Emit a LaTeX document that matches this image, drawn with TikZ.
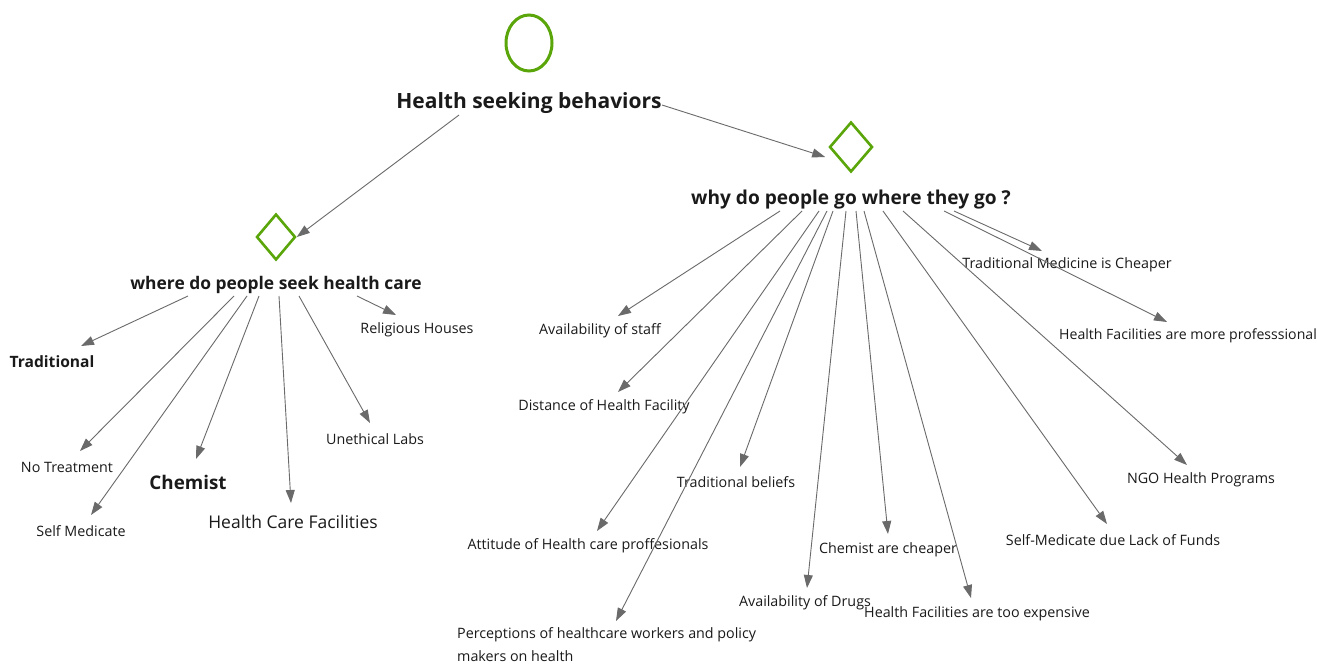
\documentclass[tikz,border=0pt]{standalone}
\usepackage{fontspec}
\setmainfont{Open Sans}
\usetikzlibrary{arrows.meta,shapes.geometric,calc}
\definecolor{grn}{HTML}{5AA60A}
\definecolor{arrc}{HTML}{6A6A6A}
\definecolor{txt}{HTML}{1A1A1A}
\tikzset{
  lbl/.style={inner sep=0pt,text=txt,font=\fontsize{14.3}{17}\selectfont},
  blbl/.style={inner sep=0pt,text=txt,font=\fontsize{#1}{#1}\selectfont\bfseries},
  arr/.style={draw=arrc,line width=0.9pt,-{Triangle[length=13pt,width=9pt]}},
  dia/.style={draw=grn,line width=2.6pt,shape=diamond,inner sep=0pt,minimum width=#1},
}
\begin{document}
\begin{tikzpicture}[x=1pt,y=-1pt]
\useasboundingbox[fill=white] (0,0) rectangle (1317,666);
% central
\node[draw=grn,line width=3pt,ellipse,minimum width=46pt,minimum height=56pt,inner sep=0pt] (top) at (529,43) {};
\node[blbl=21] (hsb) at (529,103) {Health seeking behaviors};
\node[dia=43pt,minimum height=50pt] (rdia) at (851,147) {};
\node[blbl=19.1] (why) at (851,200) {why do people go where they go ?};
\node[dia=39pt,minimum height=46pt] (ldia) at (276,237) {};
\node[blbl=17.4] (where) at (276,285) {where do people seek health care};

% left children
\node[blbl=15.6] (trad) at (52,362) {Traditional};
\node[lbl] (notreat) at (67,467) {No Treatment};
\node[lbl] (selfmed) at (81,531) {Self Medicate};
\node[blbl=18.8] (chem) at (188,482) {Chemist};
\node[lbl,font=\fontsize{17.5}{20}\selectfont] (hcf) at (293,522) {Health Care Facilities};
\node[lbl] (unlabs) at (375,439) {Unethical Labs};
\node[lbl] (relig) at (417,330) {Religious Houses};

% right children
\node[lbl] (staff) at (600,331) {Availability of staff};
\node[lbl] (dist) at (604,407) {Distance of Health Facility};
\node[lbl] (att) at (588,546) {Attitude of Health care proffesionals};
\node[lbl,anchor=north west,align=left,font=\fontsize{14.3}{23}\selectfont] (perc) at (457,627) {Perceptions of healthcare workers and policy\\makers on health};
\node[lbl] (tbel) at (736,482) {Traditional beliefs};
\node[lbl] (drugs) at (805,603) {Availability of Drugs};
\node[lbl] (cheap) at (888,550) {Chemist are cheaper};
\node[lbl] (expen) at (977,614) {Health Facilities are too expensive};
\node[lbl] (funds) at (1113,540) {Self-Medicate due Lack of Funds};
\node[lbl] (ngo) at (1201,480) {NGO Health Programs};
\node[lbl] (tmed) at (1067,265) {Traditional Medicine is Cheaper};
\node[lbl,font=\fontsize{14.1}{17}\selectfont] (prof) at (1188,336) {Health Facilities are more professsional};

% top connectors
\draw[arr] ($(hsb)+(-70,12)$) -- (ldia.east);
\draw[arr] ($(hsb)+(133,2)$) -- ($(rdia.west)+(-3,10)$);

% left connectors
\draw[arr] ($(where)+(-88,11)$) -- ($(trad)+(29,-16)$);
\draw[arr] ($(where)+(-42,11)$) -- ($(notreat)+(13,-16)$);
\draw[arr] ($(where)+(-29,11)$) -- ($(selfmed)+(10,-16)$);
\draw[arr] ($(where)+(-17,11)$) -- ($(chem)+(8,-23)$);
\draw[arr] ($(where)+(3,11)$) -- ($(hcf)+(-2,-19)$);
\draw[arr] ($(where)+(23,11)$) -- ($(unlabs)+(-5,-16)$);
\draw[arr] ($(where)+(81,11)$) -- ($(relig)+(-21,-15)$);

% right connectors
\draw[arr] ($(why)+(-71,11)$) -- ($(staff)+(18,-15)$);
\draw[arr] ($(why)+(-49,11)$) -- ($(dist)+(14,-15)$);
\draw[arr] ($(why)+(-32,11)$) -- ($(att)+(9,-15)$);
\draw[arr] ($(why)+(-24,11)$) -- ($(perc.north west)+(159,-6)$);
\draw[arr] ($(why)+(-18,11)$) -- ($(tbel)+(4,-15)$);
\draw[arr] ($(why)+(-5,11)$) -- ($(drugs)+(2,-15)$);
\draw[arr] ($(why)+(5,11)$) -- ($(cheap)+(0,-16)$);
\draw[arr] ($(why)+(13,11)$) -- ($(expen)+(-6,-16)$);
\draw[arr] ($(why)+(32,11)$) -- ($(funds)+(-6,-16)$);
\draw[arr] ($(why)+(52,11)$) -- ($(ngo)+(-14,-15)$);
\draw[arr] ($(why)+(103,11)$) -- ($(tmed)+(-25,-14)$);
\draw[arr] ($(why)+(93,11)$) -- ($(prof)+(-21,-14)$);
\end{tikzpicture}
\end{document}
